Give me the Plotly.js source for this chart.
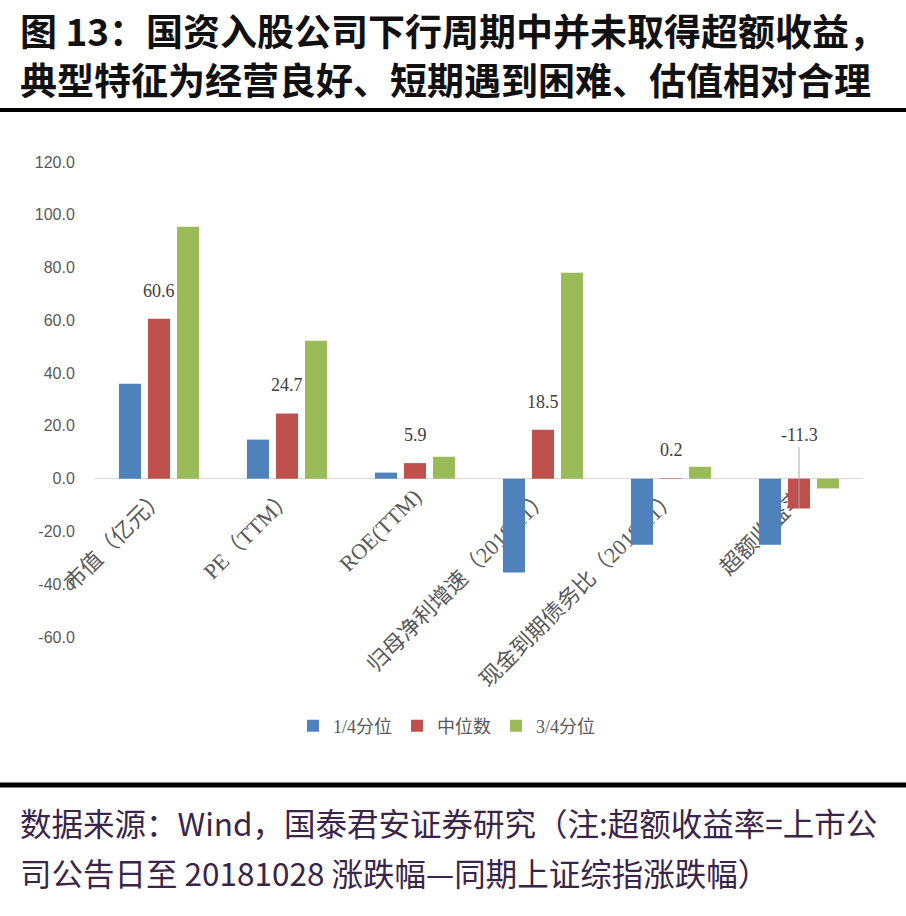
<!DOCTYPE html>
<html>
<head>
<meta charset="utf-8">
<script src="https://cdn.plot.ly/plotly-3.0.1.min.js"></script>
<style>
html,body{margin:0;padding:0;background:#fff;}
#chart{width:906px;height:916px;}
</style>
</head>
<body>
<div id="chart"></div>
<script>
// ---- data ----
const categories = ["市值（亿元）", "PE（TTM）", "ROE(TTM)", "归母净利增速（2018H1）", "现金到期债务比（2018H1）", "超额收益率"];
const seriesNames = ["1/4分位", "中位数", "3/4分位"];
const q1 = [36.0, 14.8, 2.3, -35.6, -25.0, -25.0];
const median = [60.6, 24.7, 5.9, 18.5, 0.2, -11.3];
const q3 = [95.5, 52.3, 8.3, 78.0, 4.5, -3.7];
const yTicks = [-60, -40, -20, 0, 20, 40, 60, 80, 100, 120];
const titleLines = ["图 13：国资入股公司下行周期中并未取得超额收益，", "典型特征为经营良好、短期遇到困难、估值相对合理"];
const footerLines = ["数据来源：Wind，国泰君安证券研究（注:超额收益率=上市公", "司公告日至 20181028 涨跌幅—同期上证综指涨跌幅）"];

const colors = ["#4F81BD", "#C0504D", "#9BBB59"];
const W = 906, H = 916;
const L = 95, R = 43, T = 162, B = 279;
const pw = W - L - R, ph = H - T - B;
const px = x => (x - L) / pw;          // pixel -> paper x
const py = y => (H - B - y) / ph;      // pixel -> paper y

const vals = [q1, median, q3];
const traces = vals.map((v, i) => ({
  type: 'bar',
  name: seriesNames[i],
  x: categories,
  y: v,
  marker: {color: colors[i]},
  hoverinfo: 'skip'
}));

const labelFont = {family: 'Liberation Serif, serif', size: 18, color: '#404040'};
const annotations = [];
// data labels for median series
median.forEach((v, i) => {
  if (v >= 0) {
    annotations.push({
      x: categories[i], y: v, xref: 'x', yref: 'y',
      text: v.toFixed(1), showarrow: false,
      yanchor: 'bottom', yshift: 16, font: labelFont
    });
  } else {
    annotations.push({
      x: categories[i], y: v, xref: 'x', yref: 'y',
      text: v.toFixed(1), showarrow: true, arrowhead: 0, arrowwidth: 1,
      arrowcolor: '#a6a6a6', ax: 0, ay: -73, font: labelFont
    });
  }
});
// title
titleLines.forEach((t, i) => {
  annotations.push({
    xref: 'paper', yref: 'paper', x: px(18), y: py(i === 0 ? 29.5 : 79.5),
    xanchor: 'left', yanchor: 'middle', showarrow: false, text: '<b>' + t + '</b>',
    font: {family: 'Noto Sans CJK SC, sans-serif', size: 37, color: '#111'}
  });
});
// footer
footerLines.forEach((t, i) => {
  annotations.push({
    xref: 'paper', yref: 'paper', x: px(18), y: py(i === 0 ? 822 : 872),
    xanchor: 'left', yanchor: 'middle', showarrow: false, text: t,
    font: {family: 'Noto Sans CJK SC, sans-serif', size: 31.5, color: '#3a2548'}
  });
});

const shapes = [
  {type: 'line', xref: 'paper', yref: 'paper', x0: px(0), x1: px(W), y0: py(110), y1: py(110),
   line: {color: '#000', width: 4}},
  {type: 'line', xref: 'paper', yref: 'paper', x0: px(0), x1: px(W), y0: py(785), y1: py(785),
   line: {color: '#000', width: 5}}
];

const layout = {
  width: W, height: H,
  margin: {l: L, r: R, t: T, b: B},
  paper_bgcolor: '#fff', plot_bgcolor: '#fff',
  barmode: 'group', bargap: 0.32, bargroupgap: 0.24,
  showlegend: true,
  legend: {
    orientation: 'h', xref: 'container', yref: 'container',
    x: 447 / W, xanchor: 'center', y: 1 - 726 / H, yanchor: 'middle',
    font: {family: 'Liberation Serif, Noto Sans CJK SC, serif', size: 18, color: '#595959'},
    itemwidth: 30, traceorder: 'normal'
  },
  xaxis: {
    type: 'category', anchor: 'free', position: 60 / 180,
    showline: false, showgrid: false, zeroline: false,
    ticks: '', tickangle: -45, layer: 'below traces',
    tickfont: {family: 'Liberation Serif, Noto Sans CJK SC, serif', size: 22, color: '#595959'},
    fixedrange: true
  },
  yaxis: {
    range: [-60, 120], tickvals: yTicks, ticktext: yTicks.map(v => v.toFixed(1)),
    showgrid: false, zeroline: true, zerolinecolor: '#d9d9d9', zerolinewidth: 1.5,
    showline: false, ticks: 'outside', ticklen: 16, tickcolor: 'rgba(0,0,0,0)',
    tickfont: {family: 'Liberation Sans, sans-serif', size: 16, color: '#595959'},
    fixedrange: true
  },
  annotations: annotations,
  shapes: shapes
};

Plotly.newPlot('chart', traces, layout, {displayModeBar: false, staticPlot: true});
</script>
</body>
</html>
